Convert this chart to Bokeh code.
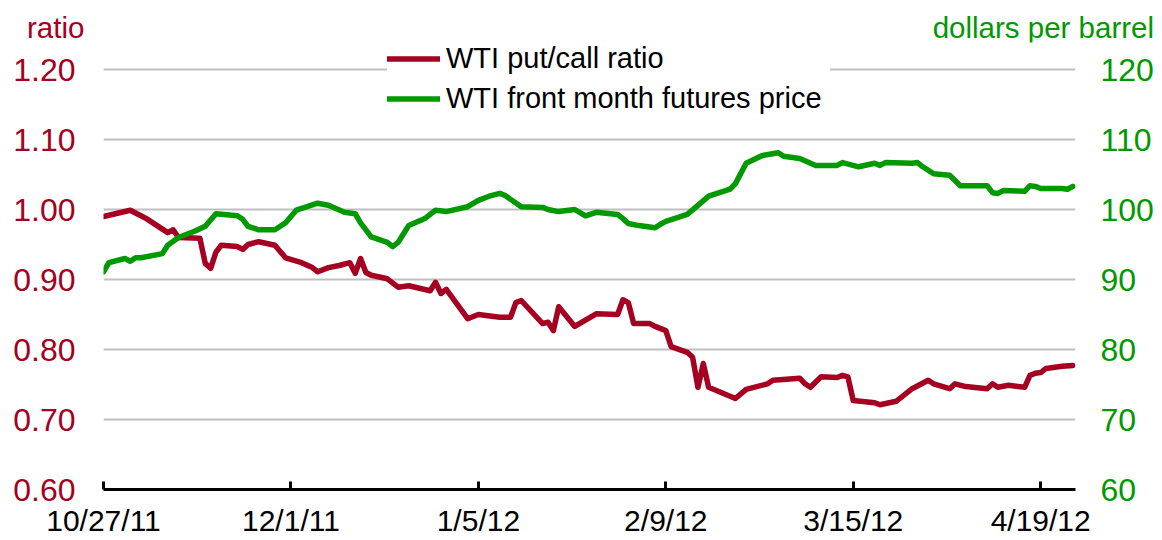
import pandas as pd
from bokeh.plotting import figure
from bokeh.layouts import column
from bokeh.models import (Range1d, LinearAxis, FixedTicker, PrintfTickFormatter,
                          Legend, LegendItem, ColumnDataSource, Div)
from bokeh.embed import file_html
from bokeh.resources import INLINE

FONT = "Liberation Sans"
RED = "#A50021"
GREEN = "#009900"

# ---------------- data ----------------
ratio_dates = [
    "2011-10-27", "2011-11-01", "2011-11-03", "2011-11-04", "2011-11-08", "2011-11-09",
    "2011-11-10", "2011-11-14", "2011-11-15", "2011-11-16", "2011-11-17", "2011-11-18",
    "2011-11-21", "2011-11-22", "2011-11-23", "2011-11-25", "2011-11-28", "2011-11-30",
    "2011-12-03", "2011-12-05", "2011-12-06", "2011-12-08", "2011-12-10", "2011-12-12",
    "2011-12-13", "2011-12-14", "2011-12-15", "2011-12-16", "2011-12-19", "2011-12-21",
    "2011-12-23", "2011-12-27", "2011-12-28", "2011-12-29", "2011-12-30", "2012-01-03",
    "2012-01-05", "2012-01-09", "2012-01-11", "2012-01-12", "2012-01-13", "2012-01-17",
    "2012-01-18", "2012-01-19", "2012-01-20", "2012-01-23", "2012-01-27", "2012-01-31",
    "2012-02-01", "2012-02-02", "2012-02-03", "2012-02-06", "2012-02-07", "2012-02-09",
    "2012-02-10", "2012-02-13", "2012-02-14", "2012-02-15", "2012-02-16", "2012-02-17",
    "2012-02-22", "2012-02-24", "2012-02-28", "2012-02-29", "2012-03-05", "2012-03-06",
    "2012-03-07", "2012-03-09", "2012-03-12", "2012-03-13", "2012-03-14", "2012-03-15",
    "2012-03-19", "2012-03-20", "2012-03-23", "2012-03-26", "2012-03-29", "2012-03-30",
    "2012-04-02", "2012-04-03", "2012-04-05", "2012-04-09", "2012-04-10", "2012-04-11",
    "2012-04-13", "2012-04-16", "2012-04-17", "2012-04-18", "2012-04-19", "2012-04-20",
    "2012-04-23", "2012-04-25",
]
ratio_values = [
    0.990, 0.999, 0.991, 0.987, 0.967, 0.971,
    0.960, 0.959, 0.923, 0.916, 0.939, 0.949,
    0.947, 0.943, 0.950, 0.954, 0.949, 0.931,
    0.924, 0.917, 0.911, 0.917, 0.920, 0.924,
    0.909, 0.930, 0.910, 0.906, 0.901, 0.889,
    0.891, 0.884, 0.896, 0.880, 0.886, 0.844,
    0.850, 0.846, 0.846, 0.867, 0.870, 0.837,
    0.839, 0.827, 0.861, 0.833, 0.851, 0.850,
    0.871, 0.867, 0.837, 0.837, 0.833, 0.827,
    0.804, 0.796, 0.789, 0.746, 0.780, 0.746,
    0.730, 0.743, 0.751, 0.756, 0.759, 0.751,
    0.746, 0.761, 0.760, 0.763, 0.761, 0.727,
    0.724, 0.721, 0.726, 0.744, 0.756, 0.751,
    0.744, 0.751, 0.747, 0.744, 0.751, 0.746,
    0.749, 0.746, 0.763, 0.766, 0.767, 0.773,
    0.776, 0.777,
]

price_dates = [
    "2011-10-27", "2011-10-28", "2011-10-31", "2011-11-01", "2011-11-02", "2011-11-03",
    "2011-11-07", "2011-11-08", "2011-11-10", "2011-11-13", "2011-11-15", "2011-11-17",
    "2011-11-21", "2011-11-22", "2011-11-23", "2011-11-25", "2011-11-28", "2011-11-30",
    "2011-12-02", "2011-12-04", "2011-12-06", "2011-12-08", "2011-12-11", "2011-12-13",
    "2011-12-14", "2011-12-16", "2011-12-19", "2011-12-20", "2011-12-21", "2011-12-23",
    "2011-12-26", "2011-12-28", "2011-12-30", "2012-01-03", "2012-01-05", "2012-01-07",
    "2012-01-09", "2012-01-10", "2012-01-13", "2012-01-17", "2012-01-18", "2012-01-20",
    "2012-01-23", "2012-01-25", "2012-01-27", "2012-01-31", "2012-02-01", "2012-02-02",
    "2012-02-04", "2012-02-07", "2012-02-08", "2012-02-09", "2012-02-13", "2012-02-15",
    "2012-02-17", "2012-02-21", "2012-02-22", "2012-02-24", "2012-02-27", "2012-03-01",
    "2012-03-02", "2012-03-05", "2012-03-08", "2012-03-12", "2012-03-13", "2012-03-16",
    "2012-03-19", "2012-03-20", "2012-03-21", "2012-03-26", "2012-03-27", "2012-03-28",
    "2012-03-30", "2012-04-02", "2012-04-04", "2012-04-09", "2012-04-10", "2012-04-11",
    "2012-04-12", "2012-04-16", "2012-04-17", "2012-04-18", "2012-04-19", "2012-04-23",
    "2012-04-24", "2012-04-25",
]
price_values = [
    91.1, 92.4, 93.0, 92.6, 93.1, 93.1,
    93.7, 94.9, 96.0, 96.9, 97.6, 99.4,
    99.1, 98.6, 97.6, 97.1, 97.1, 98.1,
    99.9, 100.4, 100.9, 100.6, 99.6, 99.4,
    98.1, 96.1, 95.3, 94.7, 95.3, 97.7,
    98.7, 99.9, 99.7, 100.4, 101.3, 101.9,
    102.3, 102.0, 100.4, 100.3, 100.0, 99.7,
    100.0, 99.1, 99.6, 99.3, 98.7, 98.0,
    97.7, 97.4, 97.9, 98.3, 99.3, 100.6,
    101.9, 102.9, 103.7, 106.6, 107.7, 108.1,
    107.6, 107.3, 106.3, 106.3, 106.7, 106.1,
    106.6, 106.3, 106.7, 106.6, 106.7, 106.1,
    105.1, 104.9, 103.4, 103.4, 102.4, 102.3,
    102.7, 102.6, 103.4, 103.3, 103.0, 103.0,
    102.9, 103.3,
]

x_tick_dates = ["2011-10-27", "2011-12-01", "2012-01-05", "2012-02-09", "2012-03-15", "2012-04-19"]
x_tick_labels = ["10/27/11", "12/1/11", "1/5/12", "2/9/12", "3/15/12", "4/19/12"]
ratio_ticks = [0.60, 0.70, 0.80, 0.90, 1.00, 1.10, 1.20]
price_ticks = [60, 70, 80, 90, 100, 110, 120]
x_start, x_end = "2011-10-27", "2012-04-25 12:00"
series_names = ["WTI put/call ratio", "WTI front month futures price"]
left_title, right_title = "ratio", "dollars per barrel"

# ---------------- layout constants ----------------
HEADER_H = 42          # strip above the plot that holds the two unit titles
FIG_W, FIG_H = 1162, 540 - HEADER_H
TOP_PAD = 27           # px between frame top and the 1.20 / 120 gridline
PLOT_H = 420           # px from 0.60 to 1.20
r_lo, r_hi = ratio_ticks[0], ratio_ticks[-1]
p_lo, p_hi = price_ticks[0], price_ticks[-1]
r_top = r_hi + (r_hi - r_lo) * TOP_PAD / PLOT_H
p_top = p_hi + (p_hi - p_lo) * TOP_PAD / PLOT_H

# ---------------- figure ----------------
ratio_src = ColumnDataSource(dict(date=pd.to_datetime(ratio_dates), v=ratio_values))
price_src = ColumnDataSource(dict(date=pd.to_datetime(price_dates), v=price_values))

p = figure(width=FIG_W, height=FIG_H, x_axis_type="datetime",
           output_backend="svg", toolbar_location=None,
           x_range=Range1d(pd.Timestamp(x_start), pd.Timestamp(x_end)),
           y_range=Range1d(r_lo, r_top),
           min_border_left=103, min_border_right=87,
           min_border_top=0, min_border_bottom=51)
p.margin = (0, 0, 0, 0)
p.outline_line_color = None
p.background_fill_color = "white"
p.border_fill_color = "white"
p.extra_y_ranges = {"price": Range1d(p_lo, p_top)}

# grid
p.xgrid.visible = False
p.ygrid.ticker = FixedTicker(ticks=ratio_ticks)
p.ygrid.grid_line_color = "#BFBFBF"
p.ygrid.grid_line_width = 2

# left axis
la = p.yaxis[0]
la.ticker = FixedTicker(ticks=ratio_ticks)
la.formatter = PrintfTickFormatter(format="%.2f")

# right axis
ra = LinearAxis(y_range_name="price", ticker=FixedTicker(ticks=price_ticks))
p.add_layout(ra, "right")

for ax, col, so in ((la, RED, 28), (ra, GREEN, 25)):
    ax.axis_line_color = None
    ax.major_tick_line_color = None
    ax.minor_tick_line_color = None
    ax.major_tick_in = 0
    ax.major_tick_out = 0
    ax.major_label_standoff = so
    ax.major_label_text_color = col
    ax.major_label_text_font = FONT
    ax.major_label_text_font_size = "32px"

# bottom axis
tick_ms = [float(pd.Timestamp(d).value // 10**6) for d in x_tick_dates]
xa = p.xaxis[0]
xa.ticker = FixedTicker(ticks=tick_ms)
xa.major_label_overrides = {t: l for t, l in zip(tick_ms, x_tick_labels)}
xa.axis_line_color = "black"
xa.axis_line_width = 3
xa.major_tick_line_color = "black"
xa.major_tick_line_width = 3
xa.major_tick_in = 8
xa.major_tick_out = 0
xa.minor_tick_line_color = None
xa.major_label_standoff = 14
xa.major_label_text_font = FONT
xa.major_label_text_font_size = "30px"
xa.major_label_text_color = "black"

# lines
r1 = p.line(x="date", y="v", source=ratio_src, line_color=RED, line_width=5.5,
            line_join="round", line_cap="round")
r2 = p.line(x="date", y="v", source=price_src, line_color=GREEN, line_width=5.5,
            line_join="round", line_cap="round", y_range_name="price")

legend = Legend(items=[LegendItem(label=series_names[0], renderers=[r1]),
                       LegendItem(label=series_names[1], renderers=[r2])],
                location=(284, 374), padding=20, spacing=7, margin=0,
                glyph_width=53, glyph_height=33, label_height=33, label_width=384,
                label_standoff=6,
                label_text_font=FONT, label_text_font_size="29px",
                label_text_color="black", border_line_color=None,
                background_fill_color="white", background_fill_alpha=1.0)
p.add_layout(legend)

# unit titles above the plot, as real text
header_html = (
    f'<div style="position:relative;width:{FIG_W}px;height:{HEADER_H}px;'
    f'font-family:\'{FONT}\';font-size:29.5px;line-height:29px;">'
    f'<span style="position:absolute;left:27px;top:13px;color:{RED};">{left_title}</span>'
    f'<span style="position:absolute;right:8px;top:13px;color:{GREEN};white-space:nowrap;">'
    f'{right_title}</span></div>'
)
header = Div(text=header_html, width=FIG_W, height=HEADER_H, margin=(0, 0, 0, 0))

layout = column(header, p, spacing=0)
open("out.html", "w").write(file_html(layout, INLINE))
